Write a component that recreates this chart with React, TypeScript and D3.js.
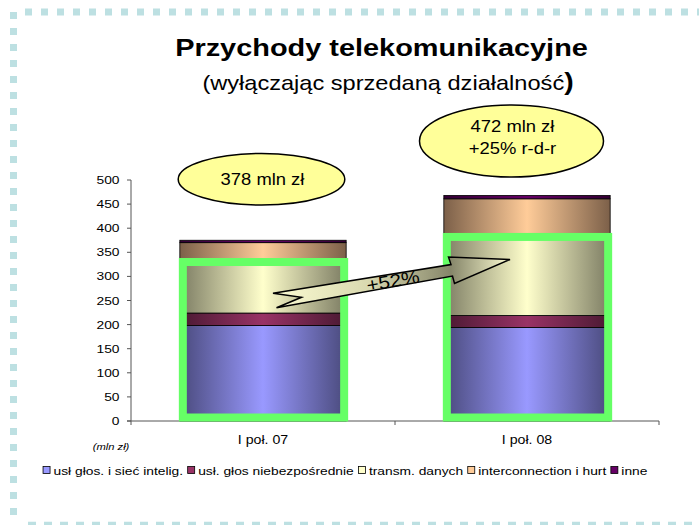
import React from 'react';
import * as d3 from 'd3';

const categories = ['I poł. 07', 'I poł. 08'];
const seriesNames = [
  'usł głos. i sieć intelig.',
  'usł. głos niebezpośrednie',
  'transm. danych',
  'interconnection i hurt',
  'inne',
];
const uslGlos = [198, 194];
const uslNiebezp = [26, 25];
const transmDanych = [110, 167];
const interconnection = [36, 75];
const inne = [5, 7];
const yTicks = [0, 50, 100, 150, 200, 250, 300, 350, 400, 450, 500];
const totalLabels = [['378 mln zł'], ['472 mln zł', '+25% r-d-r']];
const growthLabel = '+52%';
const unitLabel = '(mln zł)';
const titleText = 'Przychody telekomunikacyjne';
const subtitleText = '(wyłączając sprzedaną działalność';

const lightColors = ['#9999ff', '#993366', '#ffffcc', '#ffcc99', '#660066'];
const darkColors = ['#4a4a7c', '#4a1932', '#7c7c63', '#7c6049', '#330033'];

const FONT = "'Liberation Sans', Arial, sans-serif";

let _ctx: CanvasRenderingContext2D | null = null;
function measure(text: string, size: number, weight = 'normal'): number {
  if (!_ctx) {
    const c = document.createElement('canvas');
    _ctx = c.getContext('2d');
  }
  if (!_ctx) return text.length * size * 0.5;
  _ctx.font = `${weight} ${size}px ${FONT}`;
  return _ctx.measureText(text).width;
}

export default function App() {
  const W = 699;
  const H = 525;
  const plot = { left: 131, right: 659, top: 180, bottom: 421 };

  const x = d3.scaleBand<string>().domain(categories).range([plot.left, plot.right]).padding(0);
  const y = d3.scaleLinear().domain([0, 500]).range([plot.bottom, plot.top]);
  const barW = x.bandwidth() * 0.63;

  const rows = categories.map((c, i) => ({
    cat: c,
    s0: uslGlos[i],
    s1: uslNiebezp[i],
    s2: transmDanych[i],
    s3: interconnection[i],
    s4: inne[i],
  }));
  const keys = ['s0', 's1', 's2', 's3', 's4'];
  const stacked = d3.stack<any>().keys(keys)(rows);

  const sx = 1.18;
  const tickSize = 11.5;

  // legend layout
  const legSize = 11.5;
  const legSx = 1.2;
  const sq = 8;
  const items = seriesNames.map((n) => ({ n, w: measure(n, legSize) * legSx }));
  const totalLeg = items.reduce((a, it) => a + sq + 3 + it.w, 0) + 4 * (items.length - 1);
  let lx = 345 - totalLeg / 2;
  const legPos = items.map((it) => {
    const p = lx;
    lx += sq + 3 + it.w + 4;
    return p;
  });
  const legY = 471;

  const cx = (i: number) => (x(categories[i]) as number) + x.bandwidth() / 2;

  // frames around lower three segments
  const frames = categories.map((c, i) => {
    const bx = (x(c) as number) + (x.bandwidth() - barW) / 2;
    const topVal = uslGlos[i] + uslNiebezp[i] + transmDanych[i];
    return {
      x: bx + 3,
      y: y(topVal) + 2,
      w: barW - 5,
      h: y(0) - 3.5 - (y(topVal) + 2),
    };
  });

  // arrow geometry anchored to scale positions
  const tail = { x: cx(0) + 10, y: y(265) };
  const tip = { x: cx(1) - 17, y: y(335) };
  const arrowPts: [number, number][] = [
    [tail.x, tail.y],
    [tip.x - 59, tip.y + 5],
    [tip.x - 61.5, tip.y - 2.5],
    [tip.x, tip.y],
    [tip.x - 55.5, tip.y + 24],
    [tip.x - 57.5, tip.y + 16.5],
    [tail.x + 3.5, tail.y + 14.5],
    [tail.x + 28.5, tail.y + 4],
  ];

  const ell = [
    { cx: cx(0) - 1.5, cy: 179.2, rx: 83.3, ry: 25.8 },
    { cx: cx(1) - 15.5, cy: 141, rx: 92, ry: 36 },
  ];

  return (
    <svg width={W} height={H} style={{ position: 'absolute', left: 0, top: 0, background: '#fff' }}>
      <defs>
        {lightColors.map((c, i) => (
          <linearGradient key={i} id={`g${i}`} x1="0" y1="0" x2="1" y2="0">
            <stop offset="0" stopColor={darkColors[i]} />
            <stop offset="0.5" stopColor={c} />
            <stop offset="1" stopColor={darkColors[i]} />
          </linearGradient>
        ))}
        <linearGradient id="arrowGrad" gradientUnits="userSpaceOnUse" x1={tail.x} y1={0} x2={tip.x} y2={0}>
          <stop offset="0" stopColor="#fbfbd2" />
          <stop offset="0.4" stopColor="#d9d9b0" />
          <stop offset="0.75" stopColor="#86866a" />
          <stop offset="1" stopColor="#fbfbd0" />
        </linearGradient>
      </defs>

      {/* dashed slide border */}
      <line x1={25} y1={12} x2={699} y2={12} stroke="#bde0e2" strokeWidth={7} strokeDasharray="7 9" />
      <line x1={13.5} y1={12} x2={13.5} y2={515} stroke="#bde0e2" strokeWidth={7} strokeDasharray="7 9" />
      <line x1={28} y1={523.5} x2={699} y2={523.5} stroke="#bde0e2" strokeWidth={3.5} strokeDasharray="8 8" />

      {/* title */}
      <text transform={`translate(381.5,56) scale(${sx},1)`} textAnchor="middle" fontFamily={FONT} fontWeight="bold" fontSize={24.5} fill="#000">
        {titleText}
      </text>
      <text transform={`translate(388,90) scale(${sx},1)`} textAnchor="middle" fontFamily={FONT} fontSize={20} fill="#000">
        {subtitleText}
        <tspan fontWeight="bold" fontSize={24}>)</tspan>
      </text>

      {/* y axis */}
      <line x1={plot.left} y1={y(500)} x2={plot.left} y2={y(0)} stroke="#555" strokeWidth={1} />
      {yTicks.map((t) => (
        <g key={t}>
          <line x1={plot.left - 4} x2={plot.left} y1={y(t)} y2={y(t)} stroke="#555" />
          <text transform={`translate(119.5,${y(t) + 4}) scale(1.2,1)`} textAnchor="end" fontFamily={FONT} fontSize={tickSize} fill="#000">
            {t}
          </text>
        </g>
      ))}

      {/* bars */}
      {stacked.map((layer, si) => (
        <g key={si}>
          {layer.map((d, ci) => {
            const bx = (x(categories[ci]) as number) + (x.bandwidth() - barW) / 2;
            return (
              <rect
                key={ci}
                x={bx}
                y={y(d[1])}
                width={barW}
                height={y(d[0]) - y(d[1])}
                fill={`url(#g${si})`}
                stroke="#000"
                strokeWidth={0.8}
              />
            );
          })}
        </g>
      ))}

      {/* x axis */}
      <line x1={plot.left - 4} x2={plot.right} y1={y(0)} y2={y(0)} stroke="#555" />
      {[plot.left, plot.left + x.step(), plot.right].map((t, i) => (
        <line key={i} x1={t} x2={t} y1={y(0)} y2={y(0) + 4} stroke="#555" />
      ))}

      {/* green frames */}
      {frames.map((f, i) => (
        <rect key={i} x={f.x} y={f.y} width={f.w} height={f.h} fill="none" stroke="#66ff66" strokeWidth={8} />
      ))}

      {/* arrow */}
      <polygon points={arrowPts.map((p) => p.join(',')).join(' ')} fill="url(#arrowGrad)" stroke="#000" strokeWidth={1.5} strokeLinejoin="miter" />
      <text transform={`translate(394,287) rotate(-10) scale(1.15,1)`} textAnchor="middle" fontFamily={FONT} fontSize={18} fill="#000">
        {growthLabel}
      </text>

      {/* ellipses */}
      {ell.map((e, i) => (
        <g key={i}>
          <ellipse cx={e.cx} cy={e.cy} rx={e.rx} ry={e.ry} fill="#ffff99" stroke="#000" strokeWidth={1.5} />
          {totalLabels[i].map((t, j) => (
            <text
              key={j}
              transform={`translate(${e.cx + 1},${totalLabels[i].length === 1 ? 185 : 131.7 + j * 22.6}) scale(1.15,1)`}
              textAnchor="middle"
              fontFamily={FONT}
              fontSize={16}
              fill="#000"
            >
              {t}
            </text>
          ))}
        </g>
      ))}

      {/* category labels */}
      {categories.map((c, i) => (
        <text key={c} transform={`translate(${cx(i)},444) scale(1.18,1)`} textAnchor="middle" fontFamily={FONT} fontSize={12} fill="#000">
          {c}
        </text>
      ))}
      <text transform={`translate(111,450) scale(1.18,1)`} textAnchor="middle" fontFamily={FONT} fontStyle="italic" fontSize={9.5} fill="#000">
        {unitLabel}
      </text>

      {/* legend */}
      {items.map((it, i) => (
        <g key={i}>
          <rect x={legPos[i] + 0.5} y={legY - 4.5} width={sq - 1} height={sq - 1} fill={i === 4 ? lightColors[i] : lightColors[i]} stroke="#000" strokeWidth={0.8} />
          <text transform={`translate(${legPos[i] + sq + 3},${legY + 4}) scale(${legSx},1)`} fontFamily={FONT} fontSize={legSize} fill="#000">
            {it.n}
          </text>
        </g>
      ))}
    </svg>
  );
}
